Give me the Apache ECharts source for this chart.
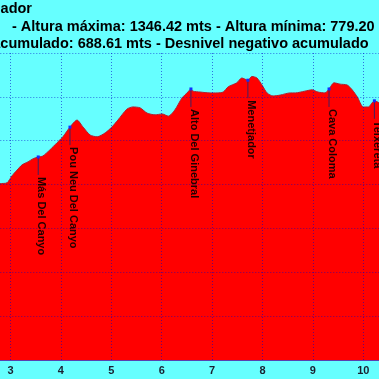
<!DOCTYPE html>
<html>
<head>
<meta charset="utf-8">
<script src="https://cdn.jsdelivr.net/npm/echarts@6/dist/echarts.min.js"></script>
<style>
html,body{margin:0;padding:0;background:#66ffff;overflow:hidden;width:379px;height:379px;position:relative;}
#c{position:absolute;left:-160px;top:0;width:639px;height:379px;}
</style>
</head>
<body>
<div id="c"></div>
<script>
// Profile: distance (km) and elevation (m)
const distKm = [2.75, 2.79, 2.93, 3.03, 3.13, 3.23, 3.35, 3.45, 3.55, 3.64, 3.78, 3.92, 4.04, 4.18, 4.32, 4.44, 4.58, 4.72, 4.88, 5.01, 5.13, 5.31, 5.43, 5.57, 5.71, 5.87, 6.01, 6.13, 6.26, 6.40, 6.52, 6.58, 6.62, 6.76, 6.96, 7.10, 7.22, 7.32, 7.49, 7.59, 7.71, 7.79, 7.89, 7.99, 8.09, 8.21, 8.35, 8.55, 8.65, 8.84, 8.98, 9.10, 9.24, 9.32, 9.42, 9.54, 9.68, 9.78, 9.88, 10.00, 10.10, 10.22, 10.32, 10.42];
const elevM  = [1099, 1102, 1104, 1120, 1133, 1145, 1152, 1159, 1163, 1165, 1179, 1195, 1209, 1231, 1247, 1231, 1213, 1209, 1218, 1231, 1247, 1272, 1277, 1275, 1263, 1259, 1261, 1256, 1270, 1297, 1311, 1318, 1313, 1311, 1309, 1309, 1311, 1323, 1332, 1343, 1338, 1346.42, 1343, 1327, 1309, 1302, 1304, 1309, 1309, 1313, 1316, 1311, 1309, 1318, 1332, 1329, 1327, 1316, 1300, 1277, 1277, 1291, 1286, 1279];

// Landmarks
const wpNames = ['Más Del Canyo', 'Pou Neu Del Canyo', 'Alto Del Ginebral', 'Menetjador', 'Cava Coloma', 'Teixereta'];
const wpKm    = [3.55, 4.18, 6.58, 7.71, 9.32, 10.22];
const wpElev  = [1163, 1231, 1318, 1338, 1318, 1291];

// Axis ticks
const xTicks = [0, 1, 2, 3, 4, 5, 6, 7, 8, 9, 10, 11, 12];
const yTicks = [700, 800, 900, 1000, 1100, 1200, 1300, 1400];

// Title texts
const titleLine1 = 'Perfil: Menetjador';
const titleLine2 = '- Altura máxima: 1346.42 mts - Altura mínima: 779.20 mts';
const titleLine3 = 'Desnivel positivo acumulado: 688.61 mts - Desnivel negativo acumulado';

const OFF = 160; // horizontal offset of the chart canvas relative to the window
const chart = echarts.init(document.getElementById('c'), null, {renderer: 'canvas'});
const FONT = '"Liberation Sans", Arial, sans-serif';
const gridCol = 'rgba(0,0,200,0.55)';

chart.setOption({
  backgroundColor: '#66ffff',
  animation: false,
  graphic: [
    {type: 'text', x: OFF + 32, y: 9, style: {text: titleLine1, font: 'bold 14.5px ' + FONT, fill: '#000', align: 'right', verticalAlign: 'middle'}},
    {type: 'text', x: OFF + 12, y: 26.5, style: {text: titleLine2, font: 'bold 14.5px ' + FONT, fill: '#000', align: 'left', verticalAlign: 'middle'}},
    {type: 'text', x: OFF - 131, y: 44, style: {text: titleLine3, font: 'bold 14.5px ' + FONT, fill: '#000', align: 'left', verticalAlign: 'middle'}}
  ],
  grid: {left: OFF - 140.7, right: 14.9, top: 53, bottom: 19, containLabel: false},
  xAxis: {
    type: 'value', min: xTicks[0], max: xTicks[xTicks.length - 1], interval: 1, z: 5,
    axisLine: {show: true, lineStyle: {color: '#5a40b0', width: 1}},
    axisTick: {show: false},
    axisLabel: {show: true, color: '#1a2030', fontFamily: FONT, fontWeight: 'bold', fontSize: 11, margin: 5},
    splitLine: {show: true, lineStyle: {color: gridCol, type: [1, 2], width: 1}}
  },
  yAxis: {
    type: 'value', min: yTicks[0], max: yTicks[yTicks.length - 1], interval: 100, z: 5,
    axisLine: {show: false}, axisTick: {show: false}, axisLabel: {show: false},
    splitLine: {show: true, lineStyle: {color: gridCol, type: [1, 2], width: 1}}
  },
  series: [
    {
      type: 'line', z: 2,
      data: distKm.map((d, i) => [d, elevM[i]]),
      showSymbol: false, smooth: 0.25,
      lineStyle: {color: '#b02030', width: 1},
      areaStyle: {color: '#ff0000', opacity: 1}
    },
    {
      type: 'custom', z: 6,
      data: wpKm.map((d, i) => [d, wpElev[i]]),
      renderItem: function (params, api) {
        const p = api.coord([api.value(0), api.value(1)]);
        const name = wpNames[params.dataIndex];
        return {
          type: 'group',
          children: [
            {type: 'line', shape: {x1: p[0], y1: p[1], x2: p[0], y2: p[1] + 18}, style: {stroke: '#402060', lineWidth: 1}},
            {type: 'rect', shape: {x: p[0] - 1.5, y: p[1] - 1.5, width: 3, height: 3}, style: {fill: '#1030ff'}},
            {type: 'text', x: p[0] + 3, y: p[1] + 20, rotation: -Math.PI / 2,
             style: {text: name, font: 'bold 11px ' + FONT, fill: '#200000', align: 'left', verticalAlign: 'middle'}}
          ]
        };
      }
    }
  ]
});
</script>
</body>
</html>
